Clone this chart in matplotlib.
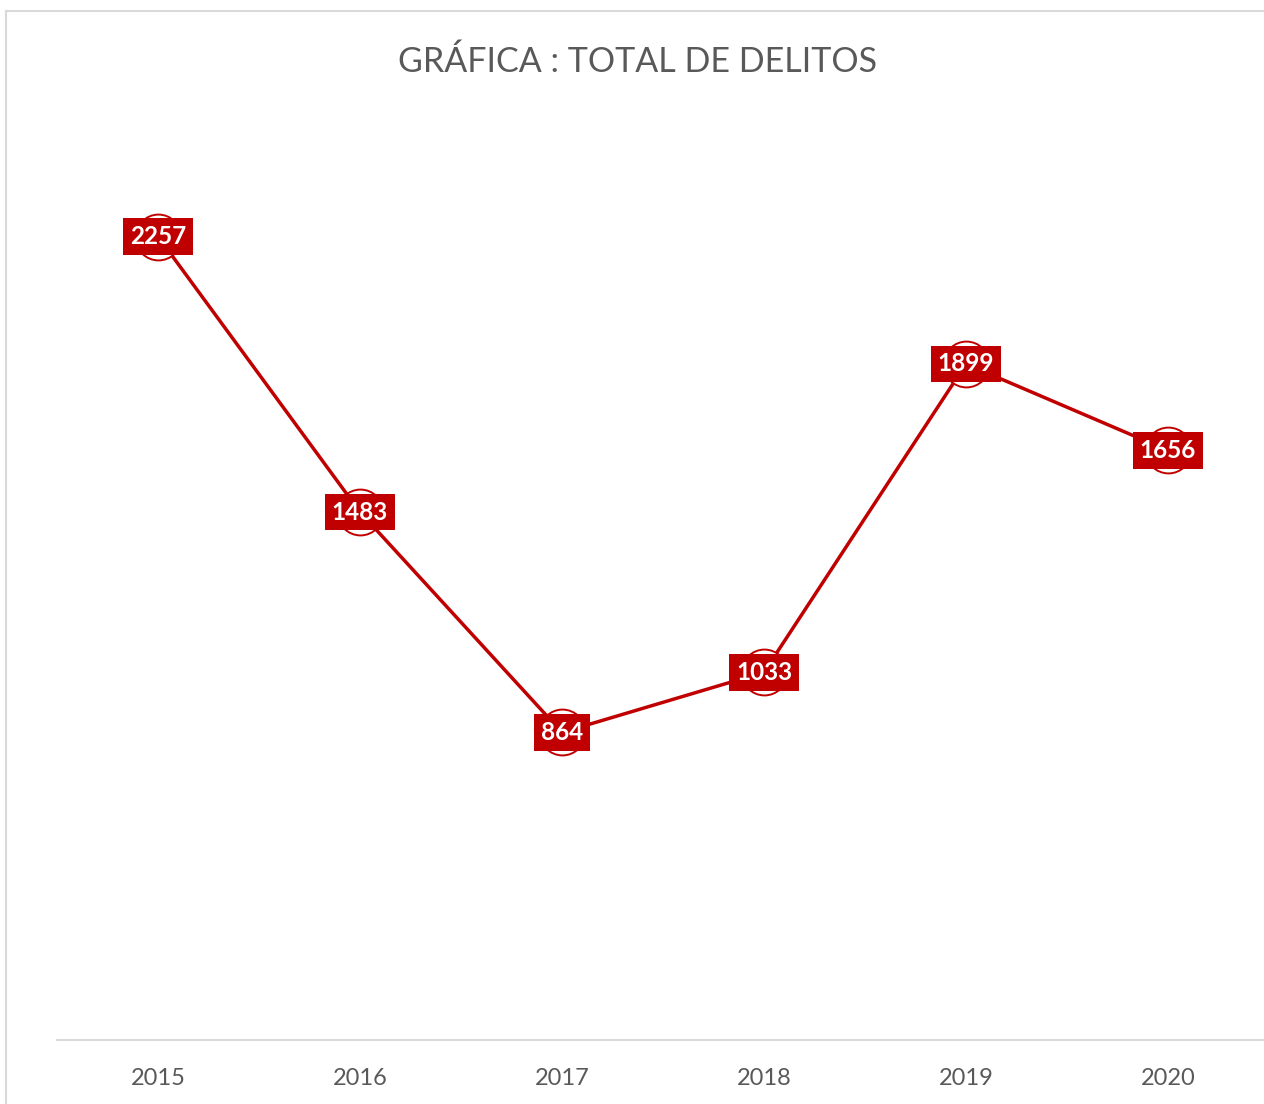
import matplotlib.pyplot as plt
from matplotlib.lines import Line2D

# data
years = ["2015", "2016", "2017", "2018", "2019", "2020"]
delitos = [2257, 1483, 864, 1033, 1899, 1656]

RED = "#C00000"
GREY_TXT = "#595959"
GREY_LINE = "#D9D9D9"

plt.rcParams["font.family"] = ["Lato", "DejaVu Sans"]

W, H = 1264, 1104
fig = plt.figure(figsize=(W / 100, H / 100), dpi=100)

# plot area, placed in pixel terms (right edge runs past the picture)
left, right, bottom, top = 57, 1269, 1040, 150
ax = fig.add_axes([left / W, 1 - bottom / H, (right - left) / W, (bottom - top) / H])

x = list(range(len(years)))
ax.plot(x, delitos, color=RED, lw=2.5, zorder=2,
        marker="o", markersize=33, markerfacecolor="white",
        markeredgecolor=RED, markeredgewidth=1.4)

for xi, v in zip(x, delitos):
    ax.text(xi, v, str(v), ha="center", va="center", color="white",
            fontsize=17.5, fontweight="bold", zorder=4,
            bbox=dict(boxstyle="square,pad=0.28", facecolor=RED, edgecolor="none"))

ax.set_xlim(-0.5, len(years) - 0.5)
ax.set_ylim(0, 2500)
ax.set_xticks(x)
ax.set_xticklabels(years, fontsize=17, color=GREY_TXT)
ax.tick_params(axis="x", length=0, pad=20)
ax.set_yticks([])
for side in ("top", "left", "right"):
    ax.spines[side].set_visible(False)
ax.spines["bottom"].set_color(GREY_LINE)
ax.spines["bottom"].set_linewidth(1.5)

fig.text(638 / W, 1 - 62 / H, "GRÁFICA : TOTAL DE DELITOS", ha="center", va="center",
         fontsize=24.5, color=GREY_TXT)

# chart frame (only its left and top edges show in the crop)
fx, fy = 6 / W, 1 - 11 / H
fig.add_artist(Line2D([fx, fx], [0, fy], color=GREY_LINE, lw=1.5))
fig.add_artist(Line2D([fx, 1], [fy, fy], color=GREY_LINE, lw=1.5))

fig.savefig("out.png", dpi=100)
